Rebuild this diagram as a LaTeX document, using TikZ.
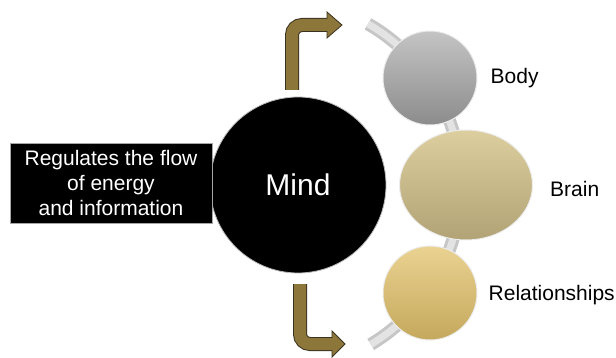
\documentclass[tikz,border=0pt]{standalone}
\usepackage{fontspec}
\setmainfont{Liberation Sans}
\usetikzlibrary{positioning}
\usetikzlibrary{shapes.geometric}

\definecolor{arrowbrown}{RGB}{140,118,58}
\definecolor{arrowedge}{RGB}{58,50,32}
\definecolor{bodytop}{RGB}{196,196,196}
\definecolor{bodybot}{RGB}{140,140,140}
\definecolor{braintop}{RGB}{220,206,158}
\definecolor{brainbot}{RGB}{178,163,118}
\definecolor{reltop}{RGB}{234,210,145}
\definecolor{relbot}{RGB}{196,168,92}

\begin{document}
\begin{tikzpicture}[x=1pt, y=-1pt,
    bubble/.style={circle, draw=white!85!gray, line width=1pt,
      minimum size=94pt, inner sep=0pt},
    lbl/.style={inner sep=0pt, font=\fontsize{21}{25}\selectfont},
    shaft/.style={line width=#1, rounded corners=10pt}]
    \path [use as bounding box]
      (0, 0) rectangle (616, 358);

    \newcommand{\bentarrow}[4]{
      \draw[shaft=14pt, arrowedge] #1;
      \filldraw[fill=arrowbrown, draw=arrowedge, line width=0.8pt]
        (#2, #3 - 13) -- (#2 + #4, #3) -- (#2, #3 + 13) -- cycle;
      \draw[shaft=12pt, arrowbrown] #1;
    }

    % ring behind the three circles
    \draw[line width=13pt, gray!45]
      ([shift={(275,185)}]-60:186) arc[start angle=-60, end angle=59, radius=186];
    \draw[line width=7pt, gray!22]
      ([shift={(275,185)}]-60:186) arc[start angle=-60, end angle=59, radius=186];

    \node[circle, fill=black, draw=gray!55, line width=0.8pt,
      minimum size=176pt, text=white,
      font=\fontsize{30}{34}\selectfont] (mind) at (298, 185) {Mind};

    \node[fill=black, draw=gray!70, line width=0.8pt, text=white,
      minimum width=202pt, minimum height=80pt, inner sep=2pt,
      align=center, font=\fontsize{21}{25}\selectfont]
      (flow) at (111, 183) {Regulates the flow\\of energy\\and information};

    \bentarrow{(292, 90) -- (292, 25) -- (328, 25)}{327}{25}{15}
    \bentarrow{(300, 284) -- (300, 344) -- (333, 344)}{332}{344}{13}

    \node[bubble, top color=bodytop, bottom color=bodybot]
      (body) at (430, 78) {};
    \node[bubble, ellipse, minimum width=133pt, minimum height=110pt,
      top color=braintop, bottom color=brainbot]
      (brain) at (466, 185) {};
    \node[bubble, top color=reltop, bottom color=relbot]
      (rel) at (430, 293) {};

    \node[lbl, right=13pt of body] (bodytxt) {Body};
    \node[lbl, right=17pt of brain, yshift=-4pt] (braintxt) {Brain};
    \node[lbl, right=11pt of rel, yshift=-2pt] (reltxt) {Relationships};

  \end{tikzpicture}
\end{document}
